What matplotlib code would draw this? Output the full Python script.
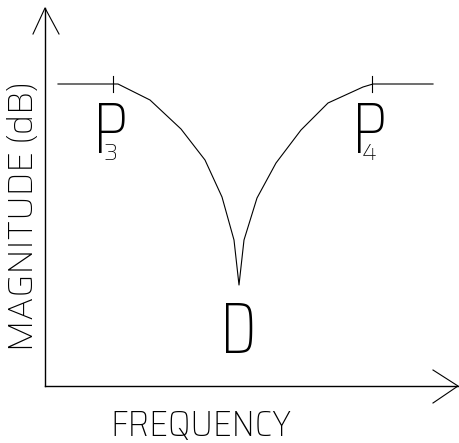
import matplotlib.pyplot as plt
from matplotlib import font_manager as fm

# notch response, frequency vs magnitude (arbitrary units, origin at the axes corner)
freq = [13, 73, 105, 136, 160, 177, 189, 194, 199, 212, 231, 256, 283, 318, 328, 388]
mag = [302, 302, 286, 257, 226, 189, 146, 101, 146, 188, 223, 256, 283, 299, 302, 302]

# pole / zero markers
pole_freq = [68, 327]
pole_names = ["3", "4"]
zero_freq = 180
zero_mag = 33


def pick(*names):
    # first family out of a few candidates that has a thin face installed
    thin = {f.name for f in fm.fontManager.ttflist
            if isinstance(f.weight, int) and f.weight <= 300 and f.style == "normal"}
    for n in names:
        if n in thin:
            return n
    return "DejaVu Sans"


SEMI = pick("Saira SemiCondensed", "Saira")
COND = pick("Saira Condensed", "Saira")
NORM = pick("Saira")

fig = plt.figure(figsize=(4.59, 4.43), dpi=100)
ax = fig.add_axes([0, 0, 1, 1])
ax.set_xlim(-45, 414)
ax.set_ylim(-57, 386)
ax.axis("off")

# axes with open arrow heads
ax.plot([0, 0], [0, 378], color="black", lw=1.0)
ax.plot([-12, 0, 14], [352, 378, 352], color="black", lw=0.8)
ax.plot([0, 413], [0, 0], color="black", lw=1.0)
ax.plot([388, 413, 388], [16, 0, -17], color="black", lw=0.8)

# response curve
ax.plot(freq, mag, color="black", lw=0.8)

# small ticks at the poles
level = mag[0]
for f in pole_freq:
    ax.plot([f, f], [level - 8, level + 8], color="black", lw=0.8)

# labels
for f, n in zip(pole_freq, pole_names):
    ax.text(f - 20, 233, "P", family=COND, fontweight=100, fontsize=53,
            ha="left", va="baseline", color="black")
    ax.text(f - 10, 226, n, family=NORM, fontweight=100, fontsize=17,
            ha="left", va="baseline", color="black")
ax.text(zero_freq - 5, zero_mag, "D", family=COND, fontweight=100, fontsize=53,
        ha="left", va="baseline", color="black")

ax.text(65, -50, "FREQUENCY", family=SEMI, fontweight=100, fontsize=26,
        ha="left", va="baseline", color="black")
ax.text(-12, 35, "MAGNITUDE (dB)", family=NORM, fontweight=100, fontsize=24.5,
        rotation=90, rotation_mode="anchor", ha="left", va="baseline", color="black")

fig.savefig("out.png", dpi=100, facecolor="white")
